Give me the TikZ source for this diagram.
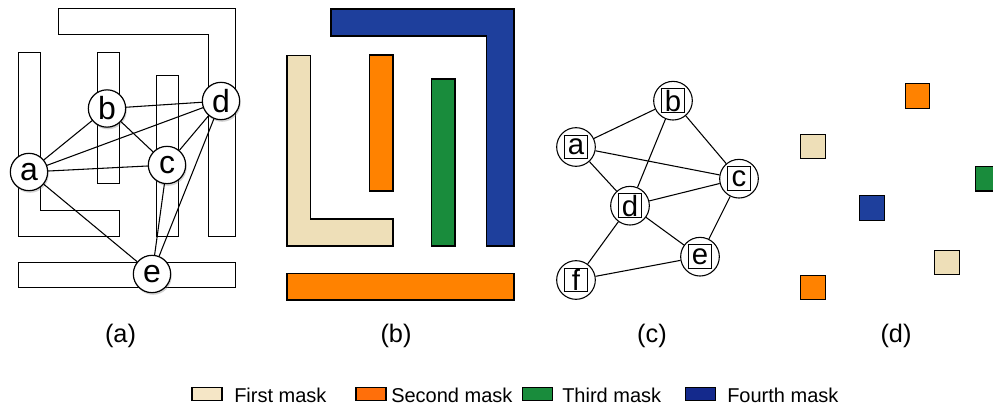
\documentclass[tikz,border=0pt]{standalone}
\usepackage{fontspec}
\setmainfont{Liberation Sans}
\usetikzlibrary{shadows}
\definecolor{maskone}{HTML}{EEDFB8}
\definecolor{masktwo}{HTML}{FF8200}
\definecolor{maskthree}{HTML}{198C3C}
\definecolor{maskfour}{HTML}{1E3F9C}
\definecolor{legone}{HTML}{F5E6C6}
\definecolor{legtwo}{HTML}{FF6F0A}
\definecolor{legfour}{HTML}{14298C}
\newcommand{\boxletter}[1]{\setlength{\fboxsep}{0pt}\setlength{\fboxrule}{0.8pt}\fbox{\parbox[c][17pt][c]{17pt}{\centering #1}}}
\tikzset{
  outline/.style={draw=black,line width=0.75pt,line join=miter},
  mask/.style={draw=black,line width=0.8pt,line join=miter},
  shadowed/.style={circle,draw=black,fill=white,line width=0.9pt,minimum size=28pt,inner sep=0pt,font=\fontsize{24}{24}\selectfont,
    drop shadow={opacity=0.35,shadow xshift=0.8pt,shadow yshift=-1.6pt}},
  plain/.style={circle,draw=black,fill=white,line width=0.8pt,minimum size=29pt,inner sep=0pt,font=\fontsize{22}{22}\selectfont},
  edge/.style={draw=black,line width=0.8pt},
  sq/.style={rectangle,draw=black,line width=0.9pt,minimum size=18.5pt,inner sep=0pt},
  swatch/.style={rectangle,draw=black,line width=0.8pt,minimum width=22.5pt,minimum height=9.5pt,inner sep=0pt},
  legtext/.style={anchor=west,inner sep=0pt,font=\fontsize{15}{15}\selectfont},
  caption/.style={font=\fontsize{19}{19}\selectfont,inner sep=0pt}
}
\begin{document}
\begin{tikzpicture}[x=0.75pt,y=-0.75pt]
\clip (0,0) rectangle (993,410);
\fill[white] (0,0) rectangle (993,410);
% panel (a)
\draw[outline] (58.5,8.5) -- (235,8.5) -- (235,236) -- (208.5,236) -- (208.5,34.5) -- (58.5,34.5) -- cycle;
\draw[outline] (18,53) -- (40.5,53) -- (40.5,210) -- (119.5,210) -- (119.5,236) -- (18,236) -- cycle;
\draw[outline] (97,53) rectangle (119.5,183);
\draw[outline] (156,75.5) rectangle (178.5,236);
\draw[outline] (18,262) rectangle (235,287);
\node[shadowed] (a) at (29,172) {a};
\node[shadowed] (b) at (107,108.5) {b};
\node[shadowed] (c) at (167,165) {c};
\node[shadowed] (d) at (221,101) {d};
\node[shadowed] (e) at (152,274) {e};
\foreach \p/\q in {a/b,a/d,a/c,a/e,b/d,b/c,c/d,c/e,d/e}{\draw[edge] (\p) -- (\q);}
% panel (b)
\draw[mask,fill=maskfour] (331,9) -- (514,9) -- (514,246) -- (486.5,246) -- (486.5,36) -- (331,36) -- cycle;
\draw[mask,fill=maskone] (287,55.5) -- (310.5,55.5) -- (310.5,219) -- (393,219) -- (393,246) -- (287,246) -- cycle;
\draw[mask,fill=masktwo] (369.5,55) rectangle (393,191);
\draw[mask,fill=maskthree] (431.5,79) rectangle (455,246);
\draw[mask,fill=masktwo] (287,273.5) rectangle (514,300);
% panel (c)
\node[plain] (ca) at (576,147) {\boxletter{a}};
\node[plain] (cb) at (673,100.7) {\boxletter{b}};
\node[plain] (cc) at (739,178.7) {\boxletter{c}};
\node[plain] (cd) at (630,205.7) {\boxletter{d}};
\node[plain] (ce) at (700,256.7) {\boxletter{e}};
\node[plain] (cf) at (576,280) {\boxletter{f}};
\foreach \p/\q in {ca/cb,ca/cc,ca/cd,cb/cd,cb/cc,cc/cd,cc/ce,cd/ce,cd/cf,ce/cf}{\draw[edge] (\p) -- (\q);}
% panel (d)
\node[sq,fill=masktwo] (d1) at (917.5,96) {};
\node[sq,fill=maskone] (d2) at (813,146.5) {};
\node[sq,fill=maskthree] (d3) at (988,178.7) {};
\node[sq,fill=maskfour] (d4) at (872,208) {};
\node[sq,fill=maskone] (d5) at (947,262.5) {};
\node[sq,fill=masktwo] (d6) at (813,287.5) {};
% captions
\node[caption] (capa) at (120.5,336) {(a)};
\node[caption] (capb) at (396,336) {(b)};
\node[caption] (capc) at (652,336) {(c)};
\node[caption] (capd) at (896,336) {(d)};
% legend
\node[swatch,fill=legone] (s1) at (207,394) {};
\node[legtext] (t1) at (234,395.5) {First mask};
\node[swatch,fill=legtwo] (s2) at (371,394) {};
\node[legtext] (t2) at (391,395.5) {Second mask};
\node[swatch,fill=maskthree] (s3) at (537.5,394) {};
\node[legtext] (t3) at (562,395.5) {Third mask};
\node[swatch,fill=legfour] (s4) at (700.5,394) {};
\node[legtext] (t4) at (727,395.5) {Fourth mask};
\end{tikzpicture}
\end{document}
